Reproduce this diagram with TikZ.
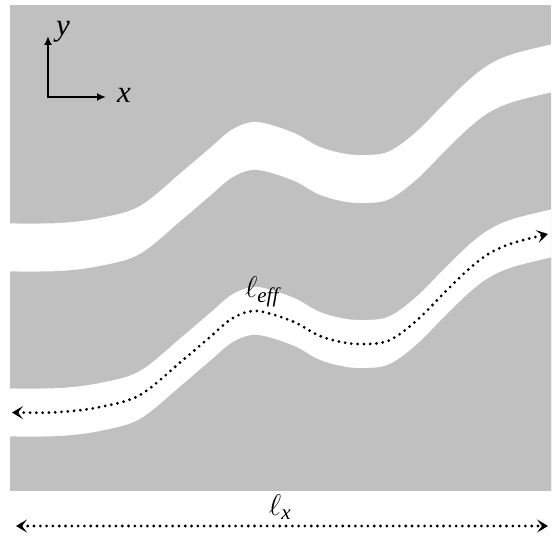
\documentclass[tikz,border=0pt]{standalone}
\usepackage{fix-cm}
\usepackage{amsmath}
\usepackage{fontspec}
\setmainfont{Liberation Serif}
\usetikzlibrary{arrows.meta}
\definecolor{chgray}{RGB}{192,192,192}
\newcommand\centreline{plot[smooth,tension=0.55] coordinates {(0,247.5) (10,247.5) (60,247) (100,242) (140,230) (183,195) (210,172) (233,153) (257,146) (293,156.5) (320,171) (350,178.5) (380,178) (397,171) (420,152.5) (445,127) (470,103) (490,88) (513,78) (551,68.5) (565,66)}}
\tikzset{
  dotline/.style={line width=3.1pt, line cap=round, dash pattern=on 0pt off 6.3pt},
  dtip/.tip={Stealth[length=11pt,width=13pt,inset=5pt]},
  axisline/.style={line width=1.7pt},
  lab/.style={inner sep=0pt, font=\fontsize{31}{34}\selectfont},
  elllab/.style={inner sep=0pt, font=\fontsize{30}{33}\selectfont}
}
\begin{document}
\begin{tikzpicture}[x=1pt,y=-1pt]
\useasboundingbox (0,0) rectangle (553,537);
\fill[white] (0,0) rectangle (553,537);
\begin{scope}
  \clip (10,5) rectangle (551,490);
  \fill[chgray] (10,5) rectangle (551,490);
  \fill[white, shift={(0,-24)}] \centreline -- (565,700) -- (0,700) -- cycle;
  \fill[chgray, shift={(0,24)}] \centreline -- (565,700) -- (0,700) -- cycle;
  \fill[white, shift={(0,141)}] \centreline -- (565,700) -- (0,700) -- cycle;
  \fill[chgray, shift={(0,189)}] \centreline -- (565,700) -- (0,700) -- cycle;
\end{scope}
% effective length path
\draw[dotline, dtip-dtip, shift={(0,165)}]
  plot[smooth,tension=0.55] coordinates {(12,247.5) (60,247) (100,242) (140,230) (183,195) (210,172) (233,153) (257,146) (293,156.5) (320,171) (350,178.5) (380,178) (397,171) (420,152.5) (445,127) (470,103) (490,88) (513,78) (548,69)};
\node[elllab] (leff) at (262,292) {$\ell_{\textit{eff}}$};
% horizontal length
\coordinate (lxL) at (16,526);
\coordinate (lxR) at (548,526);
\draw[dotline, dtip-dtip] (lxL) -- (lxR);
\node[elllab] (lx) at (280,507) {$\ell_{\textit{x}}$};
% axes
\coordinate (O) at (48,97);
\coordinate (Ytip) at (48,36);
\coordinate (Xtip) at (106,97);
\draw[axisline, {Latex[length=9pt,width=8pt]}-{Latex[length=9pt,width=8pt]}] (Ytip) -- (O) -- (Xtip);
\node[lab] (ylab) at (63,32) {\textit{y}};
\node[lab] (xlab) at (124,95) {\textit{x}};
\end{tikzpicture}
\end{document}
